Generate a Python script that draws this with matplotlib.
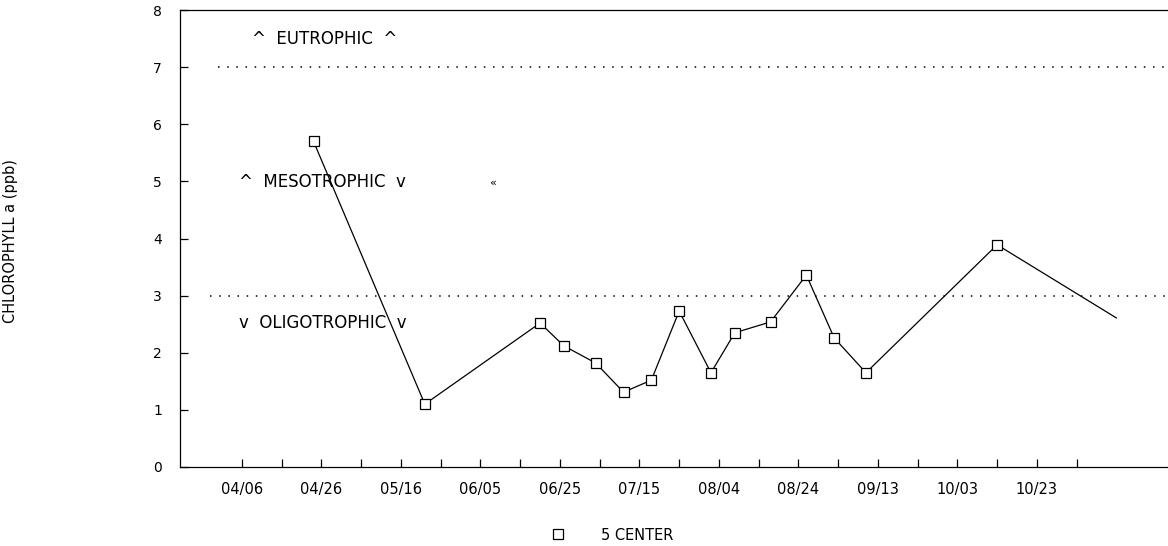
import datetime as dt
import matplotlib
matplotlib.use("Agg")
import matplotlib.pyplot as plt
from matplotlib.lines import Line2D

# sample dates (month/day) and chlorophyll a readings, station 5 center
sample_dates = ['04/24', '05/22', '06/20', '06/26', '07/04', '07/11', '07/18', '07/25',
                '08/02', '08/08', '08/17', '08/26', '09/02', '09/10', '10/13', '11/12']
chl_a = [5.70, 1.10, 2.52, 2.12, 1.82, 1.31, 1.52, 2.73,
         1.65, 2.35, 2.54, 3.36, 2.26, 1.65, 3.89, 2.61]

tick_labels = ['04/06', '04/26', '05/16', '06/05', '06/25', '07/15',
               '08/04', '08/24', '09/13', '10/03', '10/23']

# trophic boundaries (ppb)
eutrophic_limit = 7
oligotrophic_limit = 3

YEAR = 1990


def to_date(s):
    m, d = s.split('/')
    return dt.datetime(YEAR, int(m), int(d))


x = [to_date(s) for s in sample_dates]
ticks = [to_date(s) for s in tick_labels]
minor = [t + dt.timedelta(days=10) for t in ticks]

plt.rcParams['font.family'] = 'DejaVu Sans'

fig = plt.figure(figsize=(11.68, 5.46), dpi=100)
ax = fig.add_axes([180 / 1168, 79 / 546, 988 / 1168, 457 / 546])

start = ticks[0]
x0 = start - dt.timedelta(days=15.6)
x1 = start + dt.timedelta(days=233)

# threshold lines
ax.plot([start - dt.timedelta(days=6), x1], [eutrophic_limit] * 2,
        color='black', lw=1.1, ls=(0, (1, 5)))
ax.plot([start - dt.timedelta(days=8), x1], [oligotrophic_limit] * 2,
        color='black', lw=1.1, ls=(0, (1, 5)))

ax.plot(x, chl_a, color='black', lw=0.9, marker='s', markersize=7,
        markerfacecolor='white', markeredgecolor='black', markeredgewidth=0.9,
        markevery=list(range(len(x) - 1)))

ax.set_xlim(x0, x1)
ax.set_ylim(0, 8)
ax.set_yticks(range(0, 9))
ax.set_xticks(ticks)
ax.set_xticklabels(tick_labels)
ax.set_xticks(minor, minor=True)

ax.tick_params(axis='both', which='both', direction='in', length=6, width=0.9)
ax.tick_params(axis='x', pad=11, labelsize=10.5)
ax.tick_params(axis='y', pad=13, labelsize=10)
ax.spines['right'].set_visible(False)
for s in ['left', 'bottom', 'top']:
    ax.spines[s].set_linewidth(0.9)

ax.set_ylabel('CHLOROPHYLL a (ppb)', fontsize=10.5)
ax.yaxis.set_label_coords(-0.164, 0.495)

ax.text(0.073, 0.9375, '^  EUTROPHIC  ^', transform=ax.transAxes,
        fontsize=12, va='center', ha='left')
ax.text(0.060, 0.624, '^  MESOTROPHIC  v', transform=ax.transAxes,
        fontsize=12, va='center', ha='left')
ax.text(0.316, 0.621, '«', transform=ax.transAxes, fontsize=8,
        va='center', ha='center')
ax.text(0.060, 0.315, 'v  OLIGOTROPHIC  v', transform=ax.transAxes,
        fontsize=12, va='center', ha='left')

handle = Line2D([], [], ls='none', marker='s', markersize=7,
                markerfacecolor='white', markeredgecolor='black', markeredgewidth=0.9)
fig.legend(handles=[handle], labels=['5 CENTER'], loc='center',
           bbox_to_anchor=(0.524, 0.02), frameon=False,
           handlelength=1.0, handletextpad=2.4, fontsize=10.5)

fig.savefig('out.png', dpi=100)
